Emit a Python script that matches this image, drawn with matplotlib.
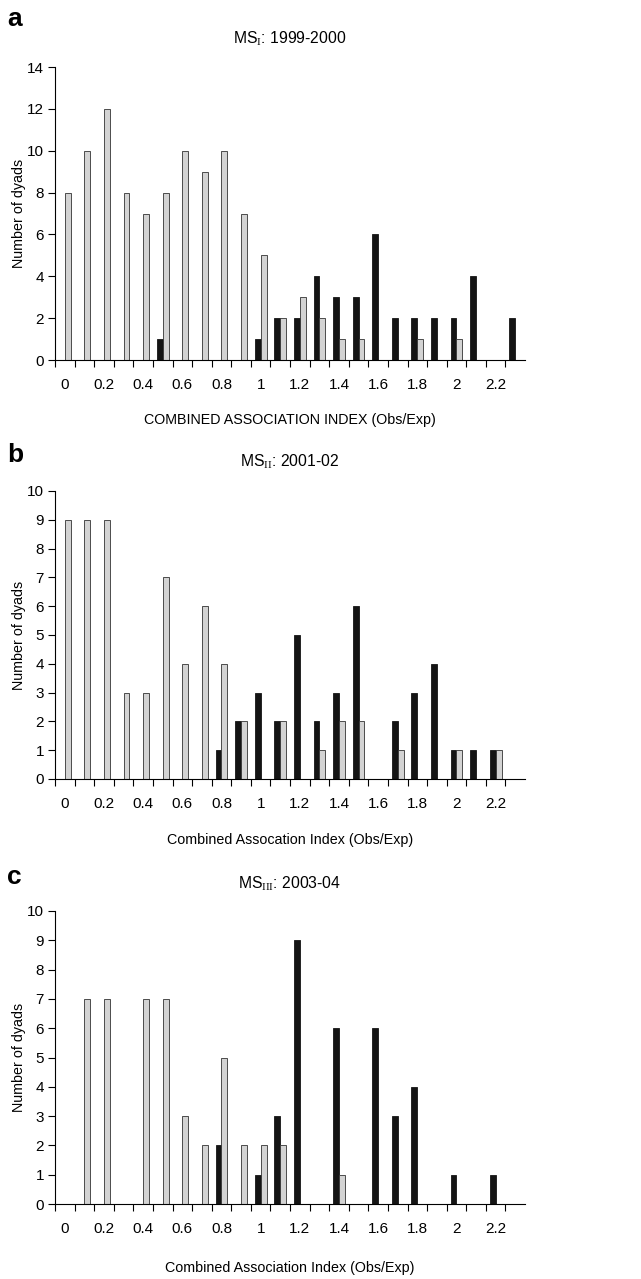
import matplotlib
matplotlib.use("Agg")
import matplotlib.pyplot as plt
import numpy as np

plt.rcParams['font.family'] = ['Liberation Sans', 'DejaVu Sans']
plt.rcParams['mathtext.fontset'] = 'custom'
plt.rcParams['mathtext.rm'] = 'Liberation Serif'

categories = [f"{v/10:g}" for v in range(24)]
tick_labels = ["0", "0.2", "0.4", "0.6", "0.8", "1", "1.2", "1.4", "1.6", "1.8", "2", "2.2"]

a_black = [0, 0, 0, 0, 0, 1, 0, 0, 0, 0, 1, 2, 2, 4, 3, 3, 6, 2, 2, 2, 2, 4, 0, 2]
a_gray  = [8, 10, 12, 8, 7, 8, 10, 9, 10, 7, 5, 2, 3, 2, 1, 1, 0, 0, 1, 0, 1, 0, 0, 0]

b_black = [0, 0, 0, 0, 0, 0, 0, 0, 1, 2, 3, 2, 5, 2, 3, 6, 0, 2, 3, 4, 1, 1, 1, 0]
b_gray  = [9, 9, 9, 3, 3, 7, 4, 6, 4, 2, 0, 2, 0, 1, 2, 2, 0, 1, 0, 0, 1, 0, 1, 0]

c_black = [0, 0, 0, 0, 0, 0, 0, 0, 2, 0, 1, 3, 9, 0, 6, 0, 6, 3, 4, 0, 1, 0, 1, 0]
c_gray  = [0, 7, 7, 0, 7, 7, 3, 2, 5, 2, 2, 2, 0, 0, 1, 0, 0, 0, 0, 0, 0, 0, 0, 0]

W, H = 641, 1279
# (letter, title, xlabel, black, gray, ymax, ystep, top_px, bottom_px, title_y, xlabel_y, letter_y)
panels = [
    ("a", r"MS$_{\rm I}$: 1999-2000", "COMBINED ASSOCIATION INDEX (Obs/Exp)", a_black, a_gray, 14, 2,
     67, 360, 39, 420, 19),
    ("b", r"MS$_{\rm II}$: 2001-02", "Combined Assocation Index (Obs/Exp)", b_black, b_gray, 10, 1,
     491, 779, 462, 840, 455),
    ("c", r"MS$_{\rm III}$: 2003-04", "Combined Association Index (Obs/Exp)", c_black, c_gray, 10, 1,
     911, 1204, 884, 1268, 877),
]

left_px, right_px = 55, 525
fs_tick = 11
fs_title = 11.3
fs_lab = 10.3
fig = plt.figure(figsize=(W/100, H/100), dpi=100)
x = np.arange(len(categories))
w = 0.3
for letter, title, xlabel, blk, gry, ymax, ystep, top, bot, ty, xly, ly in panels:
    hpx = bot - top
    ax = fig.add_axes([left_px/W, 1 - bot/H, (right_px-left_px)/W, hpx/H])
    ax.bar(x - w/2, blk, width=w, color="#141414", edgecolor="#141414", linewidth=0.6)
    ax.bar(x + w/2, gry, width=w, color="#d3d3d3", edgecolor="#333333", linewidth=0.6)
    ax.set_xlim(-0.5, 23.5)
    ax.set_ylim(0, ymax)
    ax.set_yticks(np.arange(0, ymax + 0.1, ystep))
    ax.set_xticks(x[::2])
    ax.set_xticklabels(tick_labels)
    ax.set_xticks(np.arange(-0.5, 23, 1.0), minor=True)
    ax.tick_params(axis='x', which='major', length=0, pad=13, labelsize=fs_tick)
    ax.tick_params(axis='x', which='minor', length=5, direction='out', width=0.8)
    ax.tick_params(axis='y', length=5, direction='out', width=0.8, labelsize=fs_tick, pad=3)
    for s in ['top', 'right']:
        ax.spines[s].set_visible(False)
    for s in ['left', 'bottom']:
        ax.spines[s].set_linewidth(0.8)
    ax.text(0.5, (bot - ty)/hpx, title, transform=ax.transAxes, fontsize=fs_title,
            ha='center', va='center')
    ax.set_xlabel(xlabel, fontsize=fs_lab)
    ax.xaxis.set_label_coords(0.5, (bot - xly)/hpx)
    ax.xaxis.label.set_va('center')
    ax.set_ylabel("Number of dyads", fontsize=fs_lab)
    ax.yaxis.set_label_coords((19 - left_px)/(right_px-left_px), 0.5)
    ax.yaxis.label.set_va('center')
    fig.text(7/W, 1 - ly/H, letter, fontsize=19, fontweight='bold',
             ha='left', va='center')

fig.savefig("out.png", dpi=100)
